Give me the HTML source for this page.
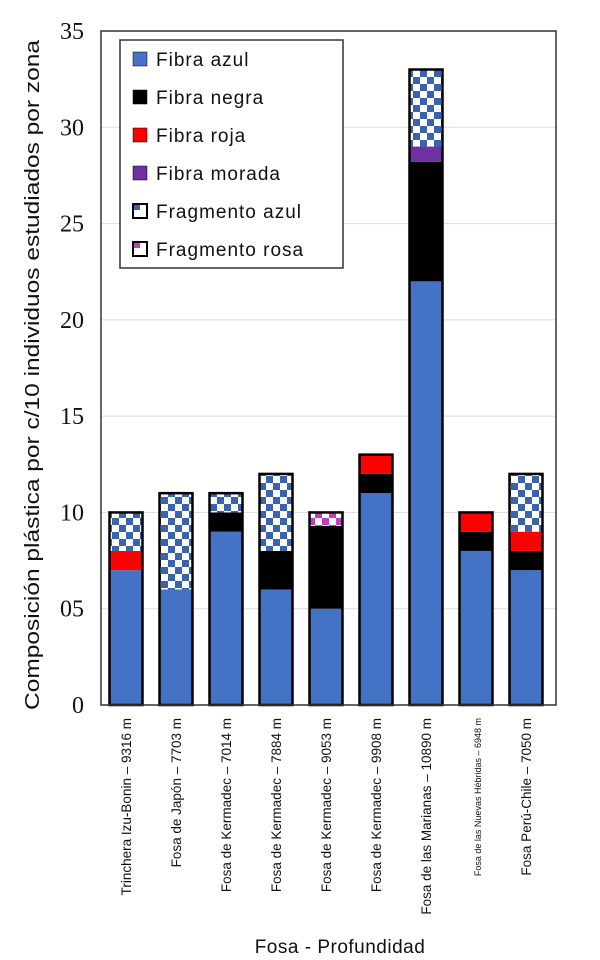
<!DOCTYPE html>
<html><head><meta charset="utf-8"><style>
body{margin:0;background:#fff;}
svg{display:block;font-family:"Liberation Sans",sans-serif;}
</style></head><body>
<svg id="chart" width="600" height="960" viewBox="0 0 600 960">
<defs>
<pattern id="chkBlue" width="14" height="14" patternUnits="userSpaceOnUse">
<rect width="14" height="14" fill="#fff"/><rect width="7" height="7" fill="#3a63ad"/><rect x="7" y="7" width="7" height="7" fill="#3a63ad"/>
</pattern>
<pattern id="chkPink" width="14" height="14" patternUnits="userSpaceOnUse">
<rect width="14" height="14" fill="#fff"/><rect width="7" height="7" fill="#c43cc4"/><rect x="7" y="7" width="7" height="7" fill="#c43cc4"/>
</pattern>
</defs>
<g id="grid"></g>
<g id="bars"></g>
<rect x="101" y="31" width="455" height="674" fill="none" stroke="#333" stroke-width="1.5"/>
<g id="yticks"></g>
<g id="xlabels"></g>
<text x="39" y="375" transform="rotate(-90 39 375)" text-anchor="middle" font-size="20" textLength="670" lengthAdjust="spacingAndGlyphs" fill="#111">Composición plástica por c/10 individuos estudiados por zona</text>
<text x="340" y="953" text-anchor="middle" font-size="19" letter-spacing="0.5" fill="#111">Fosa - Profundidad</text>
<g id="legend"></g>
</svg>
<script>
const categories=["Trinchera Izu-Bonin – 9316 m","Fosa de Japón – 7703 m","Fosa de Kermadec – 7014 m","Fosa de Kermadec – 7884 m","Fosa de Kermadec – 9053 m","Fosa de Kermadec – 9908 m","Fosa de las Marianas – 10890 m","Fosa de las Nuevas Hébridas – 6948 m","Fosa Perú-Chile – 7050 m"];
const fibraAzul=[7,6,9,6,5,11,22,8,7];
const fibraNegra=[0,0,1,2,4.3,1,6.2,1,1];
const fibraRoja=[1,0,0,0,0,1,0,1,1];
const fibraMorada=[0,0,0,0,0,0,0.8,0,0];
const fragAzul=[2,5,1,4,0,0,4,0,3];
const fragRosa=[0,0,0,0,0.7,0,0,0,0];
const yTicks=[0,5,10,15,20,25,30,35];
const yTickLabels=["0","05","10","15","20","25","30","35"];
const seriesNames=["Fibra azul","Fibra negra","Fibra roja","Fibra morada","Fragmento azul","Fragmento rosa"];
const NS="http://www.w3.org/2000/svg";
const y0=705,yTop=31,yMax=35,xL=101,step=50,bw=33;
function y(v){return y0-(v/yMax)*(y0-yTop);}
function xc(i){return 126+i*step;}
function mk(t,a,p){const e=document.createElementNS(NS,t);for(const k in a)e.setAttribute(k,a[k]);p.appendChild(e);return e;}
const grid=document.getElementById('grid'),yt=document.getElementById('yticks');
yTicks.forEach((v,i)=>{
 if(v>0&&v<yMax){const l=mk('line',{x1:xL,x2:556,y1:y(v),y2:y(v),stroke:'#ddd','stroke-width':1},grid);
 
 }
 const t=mk('text',{x:84,y:y(v)+8,'text-anchor':'end','font-size':24,'font-family':'"Liberation Serif",serif',fill:'#111'},yt);
 t.textContent=yTickLabels[i];
 
 
});
const fills=['#4472c4','#000','#ff0000','#7030a0','url(#chkBlue)','url(#chkPink)'];
const series=[fibraAzul,fibraNegra,fibraRoja,fibraMorada,fragAzul,fragRosa];
const bars=document.getElementById('bars');
categories.forEach((c,i)=>{
 let base=0;
 series.forEach((s,k)=>{
  const v=s[i]; if(!v)return;
  const r=mk('rect',{x:xc(i)-bw/2,y:y(base+v),width:bw,height:y(base)-y(base+v),fill:fills[k]},bars);
  
  
  base+=v;
 });
 const o=mk('rect',{x:xc(i)-bw/2,y:y(base),width:bw,height:y0-y(base),fill:'none',stroke:'#000','stroke-width':2.5},bars);
 
 
 const small=c.length>32;
 const t=mk('text',{x:0,y:0,'text-anchor':'end','font-size':small?9:13.5,fill:'#111',transform:`translate(${xc(i)+5},718) rotate(-90)`},document.getElementById('xlabels'));
 t.textContent=c;
 
 
});
const lg=document.getElementById('legend');
const lb=mk('rect',{x:120,y:40,width:223,height:228,fill:'#fff',stroke:'#333','stroke-width':1.5},lg);


seriesNames.forEach((n,k)=>{
 const yy=59+k*38;
 const sw=mk('rect',{x:133,y:yy-7,width:14,height:14,fill:k>=4?'#fff':fills[k],stroke:'#000','stroke-width':k>=4?2:0.5},lg);
 
 
 if(k>=4){mk('rect',{x:134,y:yy-6,width:6,height:5,fill:k==4?'#3a63ad':'#c43cc4'},lg);}
 const t=mk('text',{x:156,y:yy+7,'font-size':19,'letter-spacing':1,fill:'#111'},lg);
 t.textContent=n;
 
 
});
</script>
</body></html>
